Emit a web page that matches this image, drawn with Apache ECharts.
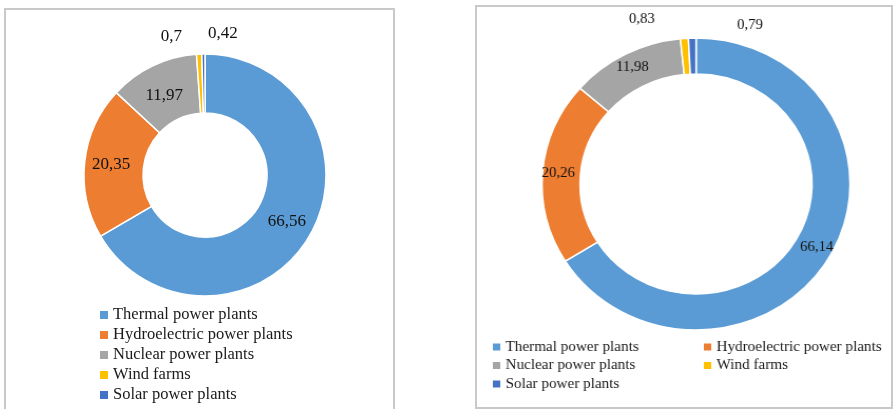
<!DOCTYPE html>
<html>
<head>
<meta charset="utf-8">
<script src="https://cdn.jsdelivr.net/npm/echarts@6/dist/echarts.min.js"></script>
<style>
  html, body { margin: 0; padding: 0; width: 894px; height: 409px; overflow: hidden; background: #fff; }
  .frame { position: absolute; box-sizing: border-box; }
  #frameLeft { left: 4px; top: 8px; width: 391px; height: 420px; border: 2px solid #c9c9c9; }
  #frameRight { left: 475px; top: 5px; width: 418px; height: 404px; border: 2px solid #c9c9c9; }
  #chartLeft { position: absolute; left: 0; top: 0; width: 400px; height: 409px; }
  #chartRight { position: absolute; left: 476px; top: 0; width: 397px; height: 409px;
                transform-origin: 0 0; transform: scaleX(1.0548); }
</style>
</head>
<body>
<div class="frame" id="frameLeft"></div>
<div class="frame" id="frameRight"></div>
<div id="chartLeft"></div>
<div id="chartRight"></div>
<script>
// Electricity generation structure by plant type, % (two periods)
const categories = [
  'Thermal power plants',
  'Hydroelectric power plants',
  'Nuclear power plants',
  'Wind farms',
  'Solar power plants'
];
const leftValues = [66.56, 20.35, 11.97, 0.7, 0.42];
const rightValues = [66.14, 20.26, 11.98, 0.83, 0.79];

const palette = ['#5b9bd5', '#ed7d31', '#a5a5a5', '#ffc000', '#4472c4'];
const serif = "'Liberation Serif', 'Times New Roman', serif";

// label nudges (dx, dy) away from the ring's default inside position
const leftLabelShift = [[0, 0], [0, 0], [0, 6], [-29, -44], [19, -47]];
const rightLabelShift = [[0, 0], [0, 0], [0, 0], [-41.5, -34.4], [54.3, -28]];

const fmt = p => String(p.value).replace('.', ',');

function pieSeries(values, center, radius, fontSize, shift) {
  return {
    type: 'pie',
    center: center,
    radius: radius,
    startAngle: 90,
    clockwise: true,
    avoidLabelOverlap: false,
    silent: true,
    itemStyle: { borderColor: '#ffffff', borderWidth: 1.5 },
    label: {
      show: true,
      position: 'inside',
      formatter: fmt,
      fontFamily: serif,
      fontSize: fontSize,
      color: '#111111'
    },
    labelLine: { show: false },
    labelLayout: p => ({ dx: shift[p.dataIndex][0], dy: shift[p.dataIndex][1] }),
    data: categories.map((name, i) => ({ name: name, value: values[i] }))
  };
}

function legendBlock(names, left, top, size, fontSize, rowHeight) {
  return {
    orient: 'vertical',
    left: left,
    top: top,
    padding: 0,
    icon: 'rect',
    itemWidth: size,
    itemHeight: size,
    itemGap: 0,
    selectedMode: false,
    itemStyle: { borderWidth: 0 },
    textStyle: { fontFamily: serif, fontSize: fontSize, color: '#1a1a1a', lineHeight: rowHeight },
    data: names
  };
}

const left = echarts.init(document.getElementById('chartLeft'), null, { renderer: 'canvas' });
left.setOption({
  animation: false,
  color: palette,
  legend: legendBlock(categories, 100, 305, 8, 16.5, 20),
  series: [pieSeries(leftValues, [205, 175], [62, 121], 17, leftLabelShift)]
});

const right = echarts.init(document.getElementById('chartRight'), null, { renderer: 'canvas' });
right.setOption({
  animation: false,
  color: palette,
  legend: [
    legendBlock([categories[0], categories[2], categories[4]], 16, 337.75, 7, 14.4, 18.5),
    legendBlock([categories[1], categories[3]], 216, 337.75, 7, 14.4, 18.5)
  ],
  series: [pieSeries(rightValues, [208.6, 184], [110, 146], 14, rightLabelShift)]
});
</script>
</body>
</html>
